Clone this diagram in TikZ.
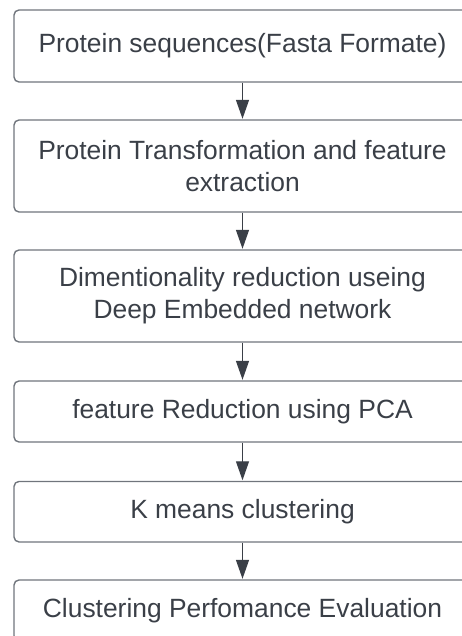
\documentclass[tikz,border=0pt]{standalone}
\usepackage{fontspec}
\setmainfont{Liberation Sans}
\usetikzlibrary{arrows.meta}
\definecolor{boxline}{HTML}{70757C}
\definecolor{inktext}{HTML}{3A3F47}
\definecolor{arrowink}{HTML}{3A3F47}
\tikzset{
  flowbox/.style={draw=boxline, line width=1.4pt, rounded corners=5pt,
    minimum width=457pt, inner sep=0pt, align=center, text=inktext,
    font=\fontsize{26.4}{31.7}\selectfont},
  flowarrow/.style={draw=arrowink, line width=1.3pt,
    -{Triangle[length=19pt,width=13pt]}, shorten >=0.5pt}
}
\begin{document}
\begin{tikzpicture}[x=1pt,y=-1pt]
\useasboundingbox (0,0) rectangle (461,636);
\node[flowbox, minimum height=72pt] (b1) at (242.5,46) {Protein sequences(Fasta Formate)};
\node[flowbox, minimum height=92pt] (b2) at (242.5,166) {Protein Transformation and feature\\extraction};
\node[flowbox, minimum height=92pt] (b3) at (242.5,296) {Dimentionality reduction useing\\Deep Embedded network};
\node[flowbox, minimum height=61pt] (b4) at (242.5,411.5) {feature Reduction using PCA};
\node[flowbox, minimum height=60.5pt] (b5) at (242.5,511.7) {K means clustering};
\node[flowbox, minimum height=61pt] (b6) at (242.5,610.5) {Clustering Perfomance Evaluation};
\draw[flowarrow] (b1.south) -- (b2.north);
\draw[flowarrow] (b2.south) -- (b3.north);
\draw[flowarrow] (b3.south) -- (b4.north);
\draw[flowarrow] (b4.south) -- (b5.north);
\draw[flowarrow] (b5.south) -- (b6.north);
\end{tikzpicture}
\end{document}
